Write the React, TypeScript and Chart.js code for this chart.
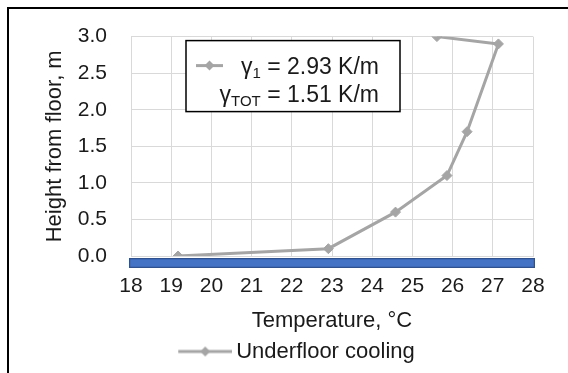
import React, { useEffect, useRef } from "react";
import { Chart, registerables } from "chart.js";
Chart.register(...registerables);

// Measured profile (underfloor cooling)
const temperatures = [19.17, 22.91, 24.58, 25.86, 26.36, 27.14, 25.61];
const heights = [0.0, 0.1, 0.6, 1.1, 1.7, 2.9, 3.0];
const seriesName = "Underfloor cooling";

// Floor slab drawn under the axis
const floorTemps = [17.95, 28.05];
const floorInnerTemps = [17.98, 28.02];
const floorLevels = [-0.095, -0.095];

// Gradient annotation
const gammaSubs = ["1", "TOT"];
const gammaValues = ["2.93", "1.51"];
const gammaUnit = "K/m";

const xTicks = { min: 18, max: 28, step: 1 };
const yTicks = { min: 0, max: 3, step: 0.5 };

const FONT = "'Liberation Sans', Arial, sans-serif";
const GREY = "#A5A5A5";
const TEXT = "#1a1a1a";

// legend icon: transparent left part so the line+diamond sits just before the text
const ICON_W = 121;
function makeLegendIcon(): HTMLCanvasElement {
  const c = document.createElement("canvas");
  c.width = ICON_W;
  c.height = 12;
  const g = c.getContext("2d")!;
  g.strokeStyle = GREY;
  g.lineWidth = 3;
  g.beginPath();
  g.moveTo(ICON_W - 54, 6);
  g.lineTo(ICON_W, 6);
  g.stroke();
  g.fillStyle = GREY;
  const cx = ICON_W - 27;
  g.beginPath();
  g.moveTo(cx, 1);
  g.lineTo(cx + 5, 6);
  g.lineTo(cx, 11);
  g.lineTo(cx - 5, 6);
  g.closePath();
  g.fill();
  return c;
}

const gradientBox = {
  id: "gradientBox",
  afterDatasetsDraw(chart: any) {
    const { ctx, chartArea } = chart;
    const x0 = chartArea.left + 55;
    const y0 = chartArea.top + 4;
    const w = 214;
    const h = 71;
    ctx.save();
    ctx.fillStyle = "#fff";
    ctx.fillRect(x0, y0, w, h);
    ctx.strokeStyle = "#000";
    ctx.lineWidth = 1.5;
    ctx.strokeRect(x0, y0, w, h);

    // marker
    const my = y0 + 25;
    ctx.strokeStyle = GREY;
    ctx.lineWidth = 3;
    ctx.beginPath();
    ctx.moveTo(x0 + 10, my);
    ctx.lineTo(x0 + 37, my);
    ctx.stroke();
    ctx.fillStyle = GREY;
    ctx.beginPath();
    const cx = x0 + 23.5;
    ctx.moveTo(cx, my - 5);
    ctx.lineTo(cx + 5, my);
    ctx.lineTo(cx, my + 5);
    ctx.lineTo(cx - 5, my);
    ctx.closePath();
    ctx.fill();

    const endX = x0 + 193;
    const big = `23px ${FONT}`;
    const small = `15px ${FONT}`;
    ctx.fillStyle = TEXT;
    ctx.textBaseline = "alphabetic";
    ctx.textAlign = "left";
    gammaSubs.forEach((sub, i) => {
      const base = y0 + 25 + i * 28 + 8;
      const rest = ` = ${gammaValues[i]} ${gammaUnit}`;
      ctx.font = big;
      const wg = ctx.measureText("γ").width;
      const wr = ctx.measureText(rest).width;
      ctx.font = small;
      const ws = ctx.measureText(sub).width;
      let x = endX - (wg + ws + wr);
      ctx.font = big;
      ctx.fillText("γ", x, base);
      x += wg;
      ctx.font = small;
      ctx.fillText(sub, x, base + 4);
      x += ws;
      ctx.font = big;
      ctx.fillText(rest, x, base);
    });
    ctx.restore();
  },
};

export default function App() {
  const ref = useRef<HTMLCanvasElement | null>(null);

  useEffect(() => {
    if (!ref.current) return;
    Chart.defaults.font.family = FONT;
    const icon = makeLegendIcon();
    const chart = new Chart(ref.current, {
      type: "scatter",
      data: {
        datasets: [
          {
            label: seriesName,
            data: temperatures.map((t, i) => ({ x: t, y: heights[i] })),
            showLine: true,
            borderColor: GREY,
            backgroundColor: GREY,
            borderWidth: 3,
            pointStyle: "rectRot",
            pointRadius: 5,
            pointBorderWidth: 1,
            order: 1,
          },
          {
            label: "floor-outline",
            data: floorTemps.map((t, i) => ({ x: t, y: floorLevels[i] })),
            showLine: true,
            borderColor: "#2F528F",
            borderWidth: 10,
            borderCapStyle: "butt",
            pointRadius: 0,
            clip: false,
            order: 3,
          },
          {
            label: "floor",
            data: floorInnerTemps.map((t, i) => ({ x: t, y: floorLevels[i] })),
            showLine: true,
            borderColor: "#4472C4",
            borderWidth: 7.5,
            borderCapStyle: "butt",
            pointRadius: 0,
            clip: false,
            order: 2,
          },
        ],
      } as any,
      options: {
        responsive: false,
        animation: false,
        layout: { padding: { left: 0, top: 36, right: 35, bottom: 0.5 } },
        plugins: {
          tooltip: { enabled: false },
          legend: {
            position: "bottom",
            labels: {
              usePointStyle: true,
              pointStyle: icon as any,
              pointStyleWidth: 107,
              padding: 6,
              color: TEXT,
              font: { size: 22, family: FONT },
              filter: (item: any) => item.datasetIndex === 0,
            },
          },
        },
        scales: {
          x: {
            type: "linear",
            min: xTicks.min,
            max: xTicks.max,
            afterFit: (s: any) => {
              s.height = 78.5;
            },
            ticks: {
              stepSize: xTicks.step,
              padding: 18,
              color: TEXT,
              font: { size: 21, family: FONT },
            },
            grid: { color: "#D9D9D9", lineWidth: 1, drawTicks: false },
            border: { color: "#D9D9D9" },
            title: {
              display: true,
              text: "Temperature, °C",
              color: TEXT,
              font: { size: 22, family: FONT },
              padding: { top: 0, bottom: 0 },
            },
          },
          y: {
            type: "linear",
            min: yTicks.min,
            max: yTicks.max,
            afterFit: (s: any) => {
              s.width = 131;
            },
            ticks: {
              stepSize: yTicks.step,
              padding: 24,
              color: TEXT,
              font: { size: 21, family: FONT },
              callback: (v: any) => Number(v).toFixed(1),
            },
            grid: { color: "#D9D9D9", lineWidth: 1, drawTicks: false },
            border: { color: "#D9D9D9" },
            title: {
              display: true,
              text: "Height from floor, m",
              color: TEXT,
              font: { size: 22, family: FONT },
              padding: { top: 42, bottom: 0 },
            },
          },
        },
      },
      plugins: [gradientBox],
    });
    return () => chart.destroy();
  }, []);

  return (
    <div>
      <div
        style={{
          position: "fixed",
          left: 7,
          top: 7,
          width: 620,
          height: 420,
          border: "2px solid #000",
          background: "#fff",
        }}
      />
      <canvas
        ref={ref}
        width={568}
        height={373}
        style={{ position: "fixed", left: 0, top: 0, width: 568, height: 373 }}
      />
    </div>
  );
}
